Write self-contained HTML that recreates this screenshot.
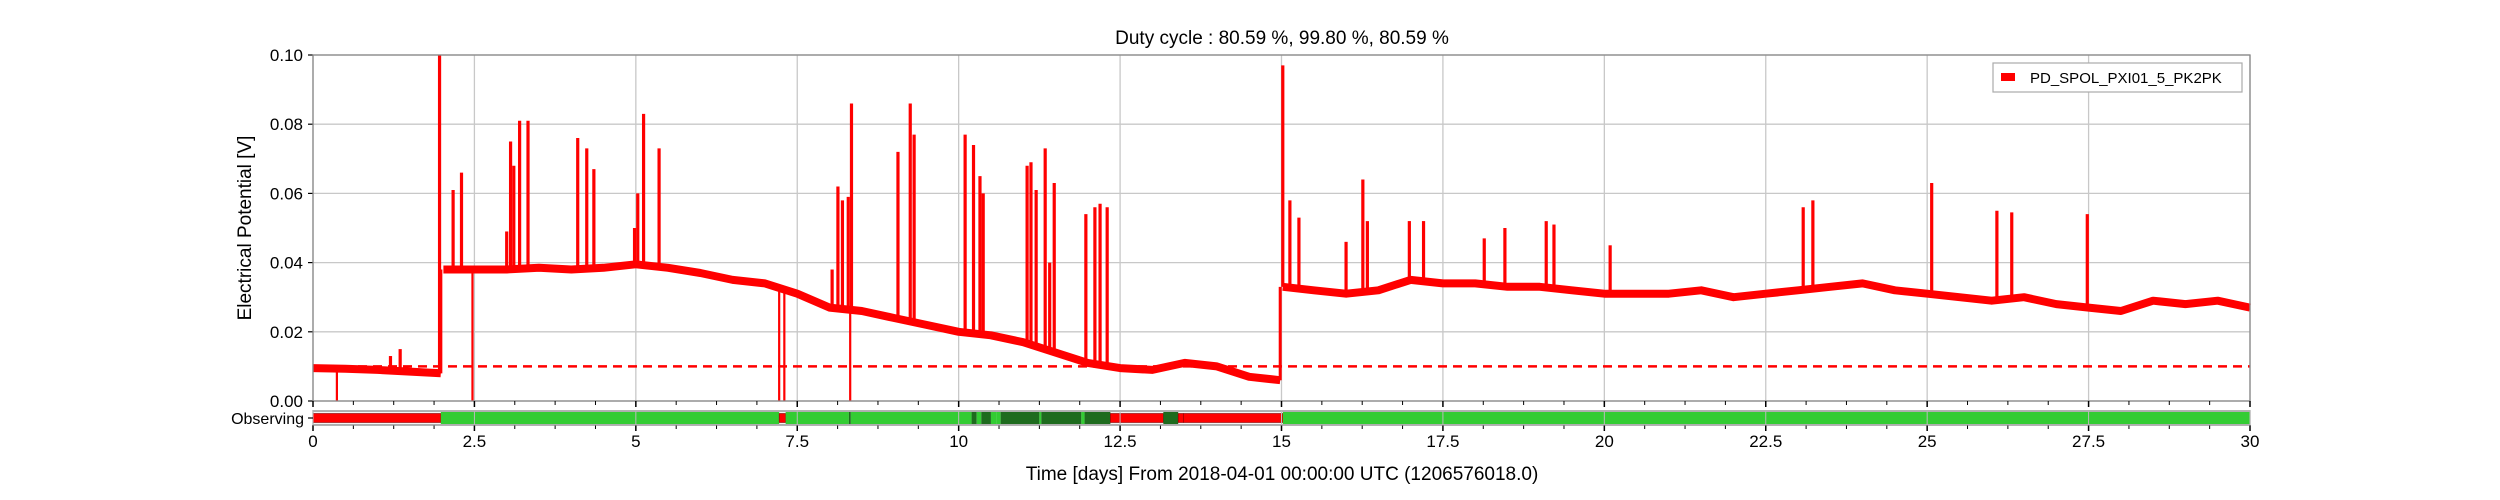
<!DOCTYPE html>
<html><head><meta charset="utf-8"><style>
html,body{margin:0;padding:0;background:#fff;}
svg{display:block;font-family:"Liberation Sans",sans-serif;}
</style></head><body>
<svg id="chart" width="2500" height="500" xmlns="http://www.w3.org/2000/svg">
<rect width="2500" height="500" fill="#fff"/>
<text x="1282" y="44" font-size="19" text-anchor="middle" fill="#000">Duty cycle : 80.59 %, 99.80 %, 80.59 %</text>
<g id="grid"></g>
<g id="series"></g>
<g id="axes"></g>
<g>
<rect x="1993" y="63" width="249" height="29" fill="#fff" stroke="#aaa" stroke-width="1.2"/>
<rect x="2001" y="73" width="14" height="8" fill="#f00"/>
<text x="2030" y="83" font-size="15" fill="#000">PD_SPOL_PXI01_5_PK2PK</text>
</g>
<text transform="translate(251,228) rotate(-90)" font-size="19" text-anchor="middle">Electrical Potential [V]</text>
<text x="1282" y="480" font-size="19" text-anchor="middle">Time [days] From 2018-04-01 00:00:00 UTC (1206576018.0)</text>
<text x="304" y="424" font-size="16" text-anchor="end">Observing</text>
</svg>
<script>
const baseDays=[0,0.5,1,1.5,1.98, 2.02,2.5,3,3.5,4,4.5,5,5.5,6,6.5,7,7.5,8,8.5,9,9.5,10,10.5,11,11.5,12,12.5,13,13.5,14,14.5,14.98, 15.02,15.5,16,16.5,17,17.5,18,18.5,19,19.5,20,20.5,21,21.5,22,22.5,23,23.5,24,24.5,25,25.5,26,26.5,27,27.5,28,28.5,29,29.5,30];
const baseVals=[0.0095,0.0093,0.009,0.0085,0.008, 0.038,0.038,0.038,0.0385,0.038,0.0385,0.0395,0.0385,0.037,0.035,0.034,0.031,0.027,0.026,0.024,0.022,0.020,0.019,0.017,0.014,0.011,0.0095,0.009,0.011,0.010,0.007,0.006, 0.033,0.032,0.031,0.032,0.035,0.034,0.034,0.033,0.033,0.032,0.031,0.031,0.031,0.032,0.030,0.031,0.032,0.033,0.034,0.032,0.031,0.030,0.029,0.030,0.028,0.027,0.026,0.029,0.028,0.029,0.027];
const spikeDays=[1.2,1.35,1.96,2.17,2.3,3.0,3.06,3.11,3.2,3.33,4.1,4.24,4.35,4.98,5.03,5.12,5.36,8.04,8.13,8.2,8.29,8.34,9.06,9.25,9.31,10.1,10.23,10.33,10.38,11.06,11.12,11.2,11.34,11.41,11.48,11.97,12.11,12.19,12.3,15.02,15.13,15.27,16.0,16.26,16.33,16.98,17.2,18.14,18.46,19.1,19.22,20.09,23.08,23.23,25.07,26.08,26.31,27.48];
const spikeVals=[0.013,0.015,0.100,0.061,0.066,0.049,0.075,0.068,0.081,0.081,0.076,0.073,0.067,0.050,0.060,0.083,0.073,0.038,0.062,0.058,0.059,0.086,0.072,0.086,0.077,0.077,0.074,0.065,0.060,0.068,0.069,0.061,0.073,0.040,0.063,0.054,0.056,0.057,0.056,0.097,0.058,0.053,0.046,0.064,0.052,0.052,0.052,0.047,0.050,0.052,0.051,0.045,0.056,0.058,0.063,0.055,0.0545,0.054];
const dipDays=[0.37,2.47,7.22,7.3,8.32];
const dipVals=[0,0,0,0,0];
const threshold=0.01;
const obsStarts=[0,1.98,7.22,7.32,8.3,8.33,10.2,10.28,10.35,10.5,10.58,10.65,11.25,11.28,11.9,11.95,12.35,13.17,13.4,13.48,15.02];
const obsEnds=[1.98,7.22,7.32,8.3,8.33,10.2,10.28,10.35,10.5,10.58,10.65,11.25,11.28,11.9,11.95,12.35,13.17,13.4,13.48,15.02,30];
const obsState=["off","on","off","on","dark","on","dark","on","dark","on","on","dark","on","dark","on","dark","off","dark","off","off","on"];
const xTicks=[0,2.5,5,7.5,10,12.5,15,17.5,20,22.5,25,27.5,30];
const xTickLabels=["0","2.5","5","7.5","10","12.5","15","17.5","20","22.5","25","27.5","30"];
const yTicks=[0,0.02,0.04,0.06,0.08,0.10];
const yTickLabels=["0.00","0.02","0.04","0.06","0.08","0.10"];

const X0=313,X1=2250,Y0=401,Y1=55,OB0=411,OB1=425;
const xs=d=>X0+d/30*(X1-X0);
const ys=v=>Y0-v/0.1*(Y0-Y1);
const NS="http://www.w3.org/2000/svg";
function mk(tag,attrs,parent){const e=document.createElementNS(NS,tag);for(const k in attrs)e.setAttribute(k,attrs[k]);parent.appendChild(e);return e;}
const grid=document.getElementById('grid'),series=document.getElementById('series'),axes=document.getElementById('axes');
xTicks.forEach((t,i)=>{
  const l=mk('line',{x1:xs(t),x2:xs(t),y1:Y1,y2:Y0,stroke:'#c8c8c8','stroke-width':1.3},grid);
  
  
  const tx=mk('text',{x:xs(t),y:447,'font-size':17,'text-anchor':'middle'},axes);
  tx.textContent=xTickLabels[i];
  
  
});
yTicks.forEach((t,i)=>{
  const l=mk('line',{x1:X0,x2:X1,y1:ys(t),y2:ys(t),stroke:'#c8c8c8','stroke-width':1.3},grid);
  
  
  mk('line',{x1:X0-5,x2:X0,y1:ys(t),y2:ys(t),stroke:'#000','stroke-width':1.2},axes);
  const tx=mk('text',{x:X0-10,y:ys(t)+6,'font-size':17,'text-anchor':'end'},axes);
  tx.textContent=yTickLabels[i];
  
  
});
const th=mk('line',{x1:X0,x2:X1,y1:ys(threshold),y2:ys(threshold),stroke:'#f00','stroke-width':2.5,'stroke-dasharray':'9,6'},series);


let segs=[[]];
baseDays.forEach((d,i)=>{
  if(i>0 && Math.abs(baseVals[i]-baseVals[i-1])>0.015) segs.push([]);
  segs[segs.length-1].push(xs(d).toFixed(1)+','+ys(baseVals[i]).toFixed(1));
});
segs.forEach(s=>{
  const p=mk('polyline',{points:s.join(' '),fill:'none',stroke:'#f00','stroke-width':8,'stroke-linejoin':'round'},series);
  
  
});
function baseAt(d){for(let i=1;i<baseDays.length;i++){if(d<=baseDays[i]){const a=baseDays[i-1],b=baseDays[i];const f=b===a?0:(d-a)/(b-a);return baseVals[i-1]+f*(baseVals[i]-baseVals[i-1]);}}return baseVals[baseVals.length-1];}
[[1.98,2.02],[14.98,15.02]].forEach(([a,b])=>{
  const l=mk('line',{x1:xs(a),x2:xs(a),y1:ys(baseAt(a)),y2:ys(baseAt(b)),stroke:'#f00','stroke-width':3},series);
  
  
});
spikeDays.forEach((d,i)=>{
  const l=mk('line',{x1:xs(d),x2:xs(d),y1:ys(baseAt(d)),y2:ys(spikeVals[i]),stroke:'#f00','stroke-width':3.2},series);
  
  
});
dipDays.forEach((d,i)=>{
  const l=mk('line',{x1:xs(d),x2:xs(d),y1:ys(baseAt(d)),y2:ys(dipVals[i]),stroke:'#f00','stroke-width':2.2},series);
  
  
});
const fr=mk('rect',{x:X0,y:Y1,width:X1-X0,height:Y0-Y1,fill:'none',stroke:'#888','stroke-width':1.3},axes);


for(let d=0;d<=30.001;d+=0.625){
  const major=Math.abs(d/2.5-Math.round(d/2.5))<1e-6;
  mk('line',{x1:xs(d),x2:xs(d),y1:Y0,y2:Y0+(major?6:4),stroke:'#000','stroke-width':major?1.5:1},axes);
  mk('line',{x1:xs(d),x2:xs(d),y1:OB1,y2:OB1+(major?6:4),stroke:'#000','stroke-width':major?1.5:1},axes);
}
const ob=mk('rect',{x:X0,y:OB0,width:X1-X0,height:OB1-OB0,fill:'#f4f4f4',stroke:'#888','stroke-width':1.3},axes);


obsStarts.forEach((s,i)=>{
  const st=obsState[i];
  const col=st==='on'?'#33cc33':(st==='dark'?'#1e6b1e':'#ff0000');
  const y=st==='off'?OB0+2.5:OB0+1, h=st==='off'?OB1-OB0-5:OB1-OB0-2;
  const r=mk('rect',{x:xs(s),y:y,width:Math.max(1,xs(obsEnds[i])-xs(s)),height:h,fill:col,stroke:st==='off'?'#800':'none','stroke-width':0.6},axes);
  
  
});
xTicks.forEach(t=>{mk('line',{x1:xs(t),x2:xs(t),y1:OB0,y2:OB1,stroke:'#bbb','stroke-width':1},axes);});
mk('line',{x1:X0-5,x2:X0,y1:(OB0+OB1)/2,y2:(OB0+OB1)/2,stroke:'#000','stroke-width':1.2},axes);
</script>
</body></html>
